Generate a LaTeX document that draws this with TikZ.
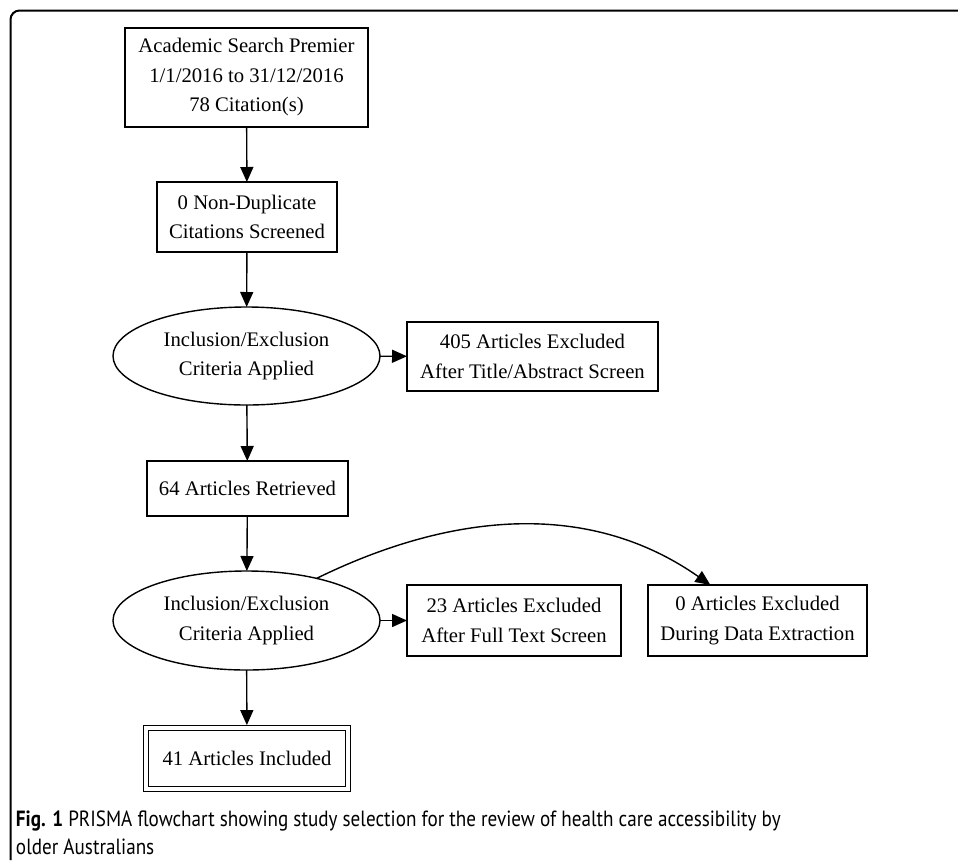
\documentclass[tikz,border=0pt]{standalone}
\usepackage{fontspec}
\setmainfont{Liberation Serif}
\newfontfamily\capfont[FakeStretch=0.87]{PT Sans}
\usetikzlibrary{arrows.meta,shapes.geometric}
\begin{document}
\begin{tikzpicture}[x=1pt,y=-1pt,
  every node/.style={font=\fontsize{20.7}{29.5}\selectfont, inner sep=0pt, outer sep=0pt, align=center},
  box/.style={draw, line width=1.4pt, rectangle},
  oval/.style={draw, line width=1.4pt, ellipse},
  arr/.style={line width=1.4pt, -{Triangle[length=15pt,width=13pt]}},
  captext/.style={anchor=base west, align=left, font=\capfont\fontsize{22}{28}\selectfont}]
\useasboundingbox (0,0) rectangle (958,860);
\draw[line width=2pt, rounded corners=9pt] (10.5,860) -- (10.5,10.5) -- (958,10.5);

\node[box, minimum width=243pt, minimum height=99pt] (src) at (246.5,77.5) {Academic Search Premier\\1/1/2016 to 31/12/2016\\78 Citation(s)};
\node[box, minimum width=180pt, minimum height=70pt] (dup) at (247,217) {0 Non-Duplicate\\Citations Screened};
\node[oval, minimum width=267pt, minimum height=98pt] (e1) at (246.5,356) {Inclusion/Exclusion\\Criteria Applied};
\node[box, minimum width=251pt, minimum height=69pt] (x1) at (532.5,356.5) {405 Articles Excluded\\After Title/Abstract Screen};
\node[box, minimum width=201pt, minimum height=55pt] (ret) at (247.5,488.5) {64 Articles Retrieved};
\node[oval, minimum width=267pt, minimum height=99pt] (e2) at (246.5,620.5) {Inclusion/Exclusion\\Criteria Applied};
\node[box, minimum width=214pt, minimum height=71pt] (x2) at (514,620.5) {23 Articles Excluded\\After Full Text Screen};
\node[box, minimum width=219pt, minimum height=71pt] (x3) at (757.5,620.5) {0 Articles Excluded\\During Data Extraction};
\node[box, double, line width=1.2pt, double distance=3.4pt, outer sep=2.9pt, minimum width=202pt, minimum height=61pt] (inc) at (247,758.5) {41 Articles Included};

\draw[arr] (src) -- (dup);
\draw[arr] (dup) -- (e1);
\draw[arr] (e1) -- (x1);
\draw[arr] (e1) -- (ret);
\draw[arr] (ret) -- (e2);
\draw[arr] (e2) -- (x2);
\draw[arr] (e2) -- (inc);
\draw[arr] (e2.31) .. controls +(130,-63.7) and +(-125,-87.5) .. (x3.143);

\node[captext] (cap1) at (16,826) {\textbf{Fig. 1} PRISMA flowchart showing study selection for the review of health care accessibility by};
\node[captext] (cap2) at (16,854) {older Australians};
\end{tikzpicture}
\end{document}
